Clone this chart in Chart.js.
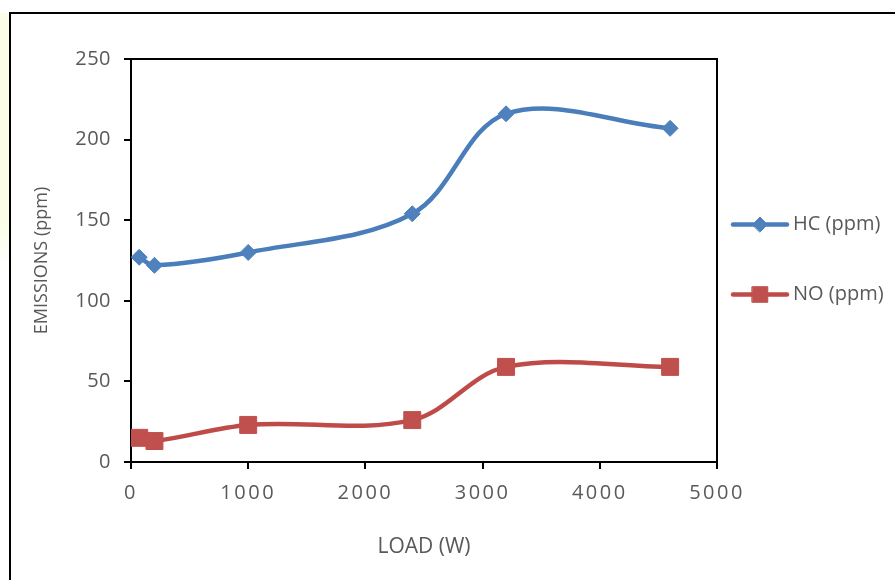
<!DOCTYPE html>
<html lang="en">
<head>
  <meta charset="UTF-8">
  <title>Emissions vs Load</title>
  <script src="https://cdn.jsdelivr.net/npm/chart.js"></script>
  <style>
    html, body { margin: 0; padding: 0; background: #fff; }
    #wrap { width: 895px; height: 580px; }
  </style>
</head>
<body>
<div id="wrap"><canvas id="emChart" width="895" height="580"></canvas></div>
<script>
  // data
  const loads = [70, 200, 1000, 2400, 3200, 4600];
  const hcValues = [127, 122, 130, 154, 216, 207];
  const noValues = [15, 13, 23, 26, 59, 59];
  const seriesNames = ['HC (ppm)', 'NO (ppm)'];
  const xTicks = [0, 1000, 2000, 3000, 4000, 5000];
  const yTicks = [0, 50, 100, 150, 200, 250];

  const toPoints = (xs, ys) => xs.map((x, i) => ({ x: x, y: ys[i] }));
  const grey = '#595959';
  const fontFam = '"Open Sans", sans-serif';

  // linear scale that spaces out its digits a little, like the original
  class SpacedLinear extends Chart.LinearScale {
    drawLabels(area) {
      const ctx = this.ctx;
      ctx.save();
      ctx.letterSpacing = this.options.ticks.letterSpacing || '0px';
      super.drawLabels(area);
      ctx.restore();
    }
  }
  SpacedLinear.id = 'spacedLinear';
  SpacedLinear.defaults = Chart.LinearScale.defaults;
  Chart.register(SpacedLinear);

  // outer frame, plot box and the legend on the right
  const framePlugin = {
    id: 'frame',
    beforeDraw(chart) {
      const c = chart.ctx;
      c.save();
      const g = c.createLinearGradient(0, 13, 0, 265);
      g.addColorStop(0, '#fbfde6');
      g.addColorStop(0.85, '#fbfde6');
      g.addColorStop(1, '#ffffff');
      c.fillStyle = g;
      c.fillRect(0, 13, 10, 252);
      c.strokeStyle = '#000';
      c.lineWidth = 2;
      c.beginPath();
      c.moveTo(10, 580);
      c.lineTo(10, 13);
      c.lineTo(895, 13);
      c.stroke();
      c.restore();
    },
    afterDraw(chart) {
      const c = chart.ctx;
      const a = chart.chartArea;
      c.save();
      c.strokeStyle = '#000';
      c.lineWidth = 2;
      c.beginPath();
      c.moveTo(a.left, a.top);
      c.lineTo(a.right, a.top);
      c.lineTo(a.right, a.bottom);
      c.stroke();

      // legend
      const midY = (a.top + a.bottom) / 2;
      const rows = [midY - 36, midY + 34];
      chart.data.datasets.forEach((ds, i) => {
        const y = rows[i];
        const x0 = a.right + 16;
        c.strokeStyle = ds.borderColor;
        c.lineWidth = ds.borderWidth;
        c.lineCap = 'round';
        c.beginPath();
        c.moveTo(x0, y);
        c.lineTo(x0 + 54, y);
        c.stroke();
        c.fillStyle = ds.pointBackgroundColor;
        c.strokeStyle = ds.pointBorderColor;
        c.lineWidth = 1;
        Chart.helpers.drawPoint(c, {
          pointStyle: ds.pointStyle, radius: ds.legendRadius, borderWidth: 1, rotation: 0
        }, x0 + 27, y);
        c.fillStyle = grey;
        c.font = '20px ' + fontFam;
        c.textAlign = 'left';
        c.textBaseline = 'middle';
        c.fillText(ds.label, x0 + 60, y);
      });
      c.restore();
    }
  };

  const ctx = document.getElementById('emChart').getContext('2d');
  new Chart(ctx, {
    type: 'scatter',
    data: {
      datasets: [
        {
          label: seriesNames[0],
          data: toPoints(loads, hcValues),
          showLine: true,
          borderColor: '#4a7ebb',
          borderWidth: 4.5,
          tension: 0.35,
          pointStyle: 'rectRot',
          pointRadius: 8,
          legendRadius: 7.5,
          pointBackgroundColor: '#4f81bd',
          pointBorderColor: '#4f81bd',
          pointBorderWidth: 1
        },
        {
          label: seriesNames[1],
          data: toPoints(loads, noValues),
          showLine: true,
          borderColor: '#be4b48',
          borderWidth: 4.5,
          tension: 0.35,
          pointStyle: 'rect',
          pointRadius: 12,
          legendRadius: 11,
          pointBackgroundColor: '#c0504d',
          pointBorderColor: '#c0504d',
          pointBorderWidth: 1
        }
      ]
    },
    options: {
      responsive: false,
      animation: false,
      events: [],
      layout: { padding: { left: 10, top: 59, right: 178, bottom: 0 } },
      plugins: {
        legend: { display: false },
        tooltip: { enabled: false }
      },
      scales: {
        x: {
          type: 'spacedLinear',
          min: 0,
          max: 5000,
          afterBuildTicks: s => { s.ticks = xTicks.map(v => ({ value: v })); },
          afterFit: s => { s.height = 118; },
          grid: { drawOnChartArea: false, drawTicks: true, tickLength: 7, color: '#000', lineWidth: 2 },
          border: { display: true, color: '#000', width: 2 },
          ticks: { color: grey, font: { family: fontFam, size: 20 }, padding: 12, maxRotation: 0, letterSpacing: '2.5px', callback: v => String(v) },
          title: { display: true, text: 'LOAD (W)', color: grey, font: { family: fontFam, size: 21 }, padding: { bottom: 20 } }
        },
        y: {
          type: 'spacedLinear',
          min: 0,
          max: 250,
          afterBuildTicks: s => { s.ticks = yTicks.map(v => ({ value: v })); },
          afterFit: s => { s.width = 121; },
          grid: { drawOnChartArea: false, drawTicks: true, tickLength: 7, color: '#000', lineWidth: 2 },
          border: { display: true, color: '#000', width: 2 },
          ticks: { color: grey, font: { family: fontFam, size: 20 }, padding: 13, letterSpacing: '0.5px', callback: v => String(v) },
          title: { display: true, text: 'EMISSIONS (ppm)', color: grey, font: { family: fontFam, size: 18 }, padding: { top: 21 } }
        }
      }
    },
    plugins: [framePlugin]
  });
</script>
</body>
</html>
